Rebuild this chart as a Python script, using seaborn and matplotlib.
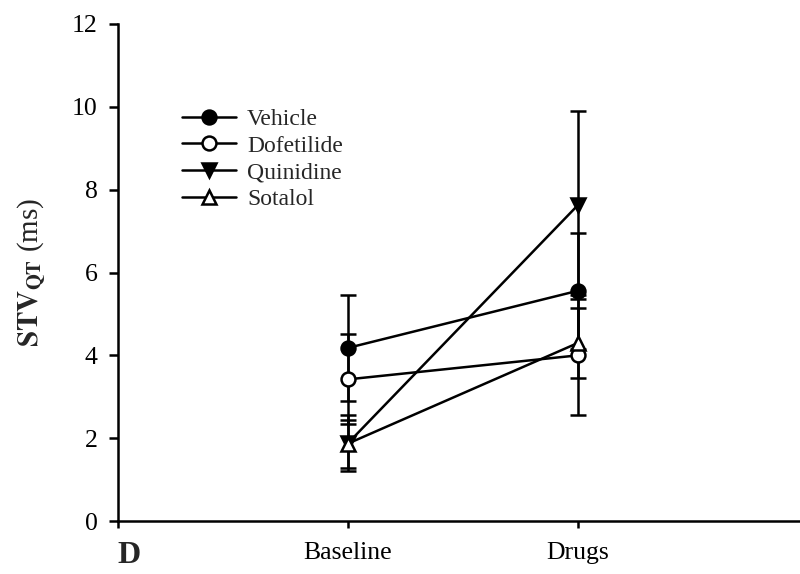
import matplotlib
matplotlib.use("Agg")
import matplotlib.pyplot as plt
from matplotlib.lines import Line2D
import seaborn as sns
import pandas as pd

# Study phases on the x axis
phases = ["Baseline", "Drugs"]
phase_pos = [1, 2]

# Mean STV_QT (ms) and error per group
vehicle = [4.18, 5.56]
vehicle_err = [1.28, 1.40]
dofetilide = [3.42, 4.00]
dofetilide_err = [1.09, 1.45]
quinidine = [1.88, 7.63]
quinidine_err = [0.67, 2.27]
sotalol = [1.87, 4.30]
sotalol_err = [0.58, 0.85]

y_ticks = [0, 2, 4, 6, 8, 10, 12]

sns.set_style("ticks")
plt.rcParams["font.family"] = ["Liberation Serif", "DejaVu Serif"]
plt.rcParams["mathtext.fontset"] = "stix"

fig = plt.figure(figsize=(8, 5.74), dpi=100)
ax = fig.add_axes([118 / 800, 53 / 574, 682 / 800, 497 / 574])

groups = [
    ("Vehicle", vehicle, vehicle_err, "o", "black"),
    ("Dofetilide", dofetilide, dofetilide_err, "o", "white"),
    ("Quinidine", quinidine, quinidine_err, "v", "black"),
    ("Sotalol", sotalol, sotalol_err, "^", "white"),
]

LW = 1.8

for name, vals, errs, mk, face in groups:
    ax.errorbar(phase_pos, vals, yerr=errs, fmt="none", ecolor="black",
                elinewidth=LW, capsize=6, capthick=LW, zorder=2,
                label="_nolegend_")
    df = pd.DataFrame({"phase": phase_pos, "value": vals})
    sns.lineplot(data=df, x="phase", y="value", ax=ax, color="black",
                 linewidth=LW, marker=mk, markersize=10,
                 markerfacecolor=face, markeredgecolor="black",
                 markeredgewidth=LW, label=name, zorder=3, errorbar=None)

handles = [h for h in ax.get_legend_handles_labels()[0] if isinstance(h, Line2D)]
labels = [h.get_label() for h in handles]
ax.legend(handles, labels, loc="upper left", bbox_to_anchor=(0.094, 0.83),
          frameon=False, fontsize=17, handlelength=2.3, handletextpad=0.45,
          labelspacing=0.22, borderpad=0, borderaxespad=0, numpoints=1)

ax.set_xlim(0, 2.965)
ax.set_ylim(0, 12)
ax.set_xticks([0] + phase_pos)
ax.set_xticklabels([""] + phases)
ax.set_yticks(y_ticks)
ax.set_yticklabels([str(t) for t in y_ticks])
ax.set_xlabel("")
ax.set_ylabel(r"$\mathbf{STV}_{\mathbf{QT}}$ (ms)", fontsize=21)
ax.yaxis.set_label_coords(-0.103, 0.5)

for side in ("top", "right"):
    ax.spines[side].set_visible(False)
for side in ("left", "bottom"):
    ax.spines[side].set_linewidth(LW)
    ax.spines[side].set_color("black")

ax.tick_params(axis="y", direction="out", length=6.5, width=LW, pad=8,
               labelsize=18.5, colors="black")
ax.tick_params(axis="x", direction="out", length=5, width=LW, pad=10,
               labelsize=18.5, colors="black")

fig.text(117 / 800, 11 / 574, "D", fontweight="bold", fontsize=23,
         ha="left", va="baseline")

fig.savefig("out.png", dpi=100)
